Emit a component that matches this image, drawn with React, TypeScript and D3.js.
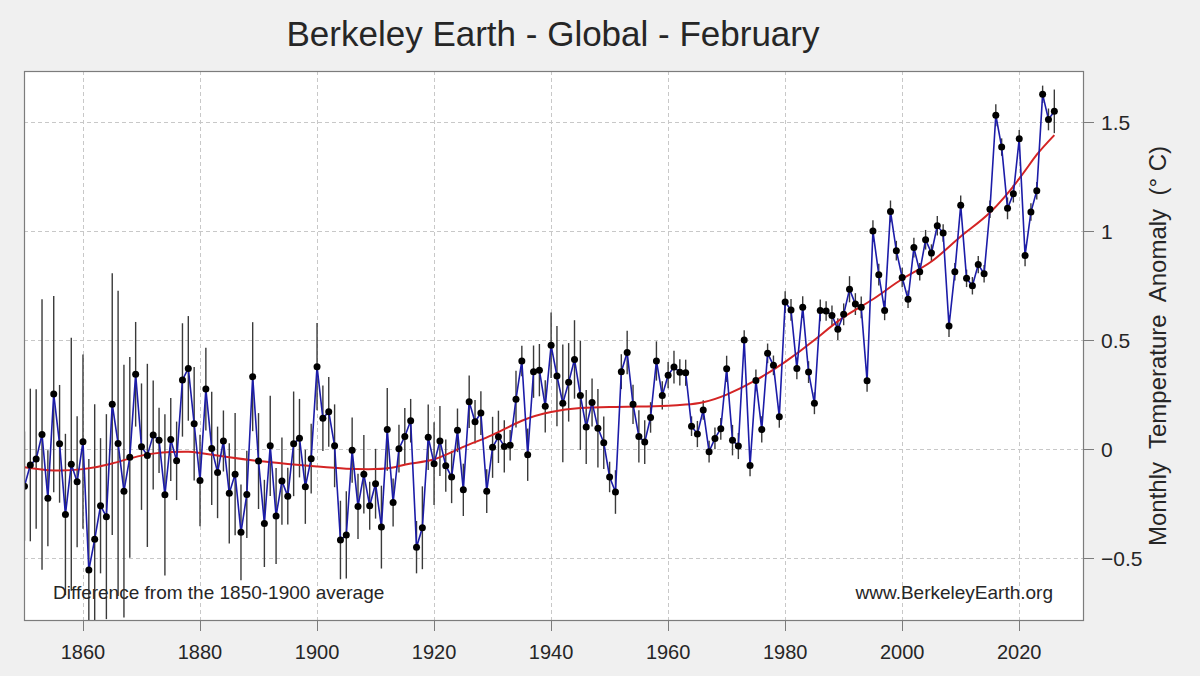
import React, { useEffect, useRef } from "react";
import * as d3 from "d3";

// February global anomaly, 1850..2026
const startYear = 1850;
const anomaly = [
  -0.17, -0.073, -0.046, 0.067, -0.226, 0.252, 0.024, -0.3, -0.07, -0.15,
  0.034, -0.555, -0.414, -0.26, -0.31, 0.206, 0.026, -0.193, -0.038, 0.343,
  0.011, -0.029, 0.064, 0.04, -0.21, 0.044, -0.054, 0.317, 0.37, 0.116,
  -0.144, 0.275, 0.003, -0.107, 0.037, -0.203, -0.115, -0.382, -0.208, 0.332,
  -0.055, -0.341, 0.015, -0.307, -0.147, -0.216, 0.024, 0.05, -0.173, -0.044,
  0.378, 0.141, 0.171, 0.015, -0.417, -0.394, -0.005, -0.263, -0.116, -0.26,
  -0.159, -0.358, 0.09, -0.245, 0.002, 0.058, 0.13, -0.45, -0.361, 0.054,
  -0.067, 0.037, -0.076, -0.128, 0.086, -0.187, 0.217, 0.125, 0.165, -0.193,
  0.008, 0.056, 0.012, 0.017, 0.229, 0.404, -0.026, 0.355, 0.362, 0.196,
  0.476, 0.335, 0.21, 0.306, 0.411, 0.246, 0.101, 0.214, 0.096, 0.029,
  -0.128, -0.197, 0.355, 0.443, 0.205, 0.058, 0.032, 0.145, 0.404, 0.246,
  0.339, 0.376, 0.352, 0.35, 0.105, 0.069, 0.179, -0.012, 0.049, 0.093,
  0.368, 0.041, 0.014, 0.5, -0.075, 0.315, 0.09, 0.439, 0.384, 0.148,
  0.674, 0.638, 0.37, 0.651, 0.353, 0.21, 0.636, 0.633, 0.613, 0.55,
  0.618, 0.733, 0.665, 0.65, 0.313, 1.0, 0.8, 0.636, 1.09, 0.91,
  0.787, 0.687, 0.924, 0.813, 0.96, 0.899, 1.024, 0.991, 0.564, 0.813,
  1.118, 0.783, 0.749, 0.846, 0.804, 1.1, 1.531, 1.385, 1.104, 1.171,
  1.423, 0.888, 1.087, 1.185, 1.627, 1.512, 1.549,
];

// half-width of the uncertainty bars, same years
const uncertainty = [
  0.25, 0.35, 0.32, 0.62, 0.22, 0.45, 0.27, 0.37, 0.58, 0.3,
  0.4, 0.51, 0.62, 0.31, 0.47, 0.6, 0.7, 0.58, 0.46, 0.24,
  0.29, 0.42, 0.25, 0.15, 0.37, 0.19, 0.18, 0.26, 0.24, 0.26,
  0.21, 0.19, 0.26, 0.21, 0.14, 0.23, 0.28, 0.22, 0.2, 0.25,
  0.22, 0.2, 0.23, 0.22, 0.2, 0.13, 0.24, 0.18, 0.17, 0.16,
  0.2, 0.15, 0.16, 0.19, 0.18, 0.2, 0.15, 0.15, 0.18, 0.11,
  0.16, 0.19, 0.19, 0.11, 0.11, 0.13, 0.1, 0.12, 0.19, 0.15,
  0.19, 0.16, 0.12, 0.12, 0.1, 0.12, 0.12, 0.1, 0.1, 0.1,
  0.14, 0.12, 0.12, 0.07, 0.13, 0.07, 0.12, 0.12, 0.12, 0.12,
  0.15, 0.23, 0.27, 0.18, 0.18, 0.25, 0.17, 0.11, 0.18, 0.12,
  0.07, 0.1, 0.08, 0.1, 0.09, 0.12, 0.1, 0.07, 0.09, 0.065,
  0.06, 0.075, 0.06, 0.06, 0.045, 0.06, 0.045, 0.05, 0.05, 0.05,
  0.06, 0.07, 0.06, 0.045, 0.05, 0.05, 0.06, 0.045, 0.045, 0.05,
  0.05, 0.05, 0.05, 0.05, 0.05, 0.05, 0.05, 0.045, 0.045, 0.05,
  0.05, 0.06, 0.05, 0.05, 0.05, 0.05, 0.05, 0.045, 0.05, 0.045,
  0.045, 0.04, 0.045, 0.04, 0.045, 0.04, 0.045, 0.04, 0.05, 0.04,
  0.045, 0.04, 0.04, 0.04, 0.04, 0.04, 0.05, 0.04, 0.05, 0.04,
  0.04, 0.05, 0.04, 0.04, 0.04, 0.05, 0.1,
];

// red smoothed trend
const smoothYears = [
  1850, 1855, 1860, 1865, 1870, 1875, 1878, 1880, 1885, 1890, 1895, 1900,
  1905, 1910, 1913, 1916, 1920, 1925, 1930, 1935, 1940, 1945, 1950, 1955,
  1960, 1963, 1966, 1970, 1975, 1980, 1985, 1990, 1995, 2000, 2005, 2010, 2015,
  2020, 2023, 2026,
];
const smoothValues = [
  -0.083, -0.098, -0.092, -0.066, -0.03, -0.014, -0.012, -0.018, -0.038, -0.055, -0.068, -0.08,
  -0.09, -0.092, -0.085, -0.066, -0.047, 0.01, 0.065, 0.13, 0.17, 0.188, 0.193, 0.195,
  0.199, 0.204, 0.215, 0.25, 0.316, 0.4, 0.5, 0.605, 0.687, 0.78, 0.86, 0.975, 1.085,
  1.24, 1.35, 1.44,
];

const xTicks = [1860, 1880, 1900, 1920, 1940, 1960, 1980, 2000, 2020];
const yTicks = [-0.5, 0, 0.5, 1, 1.5];

const title = "Berkeley Earth - Global - February";
const yLabel = "Monthly  Temperature  Anomaly  (° C)";
const noteLeft = "Difference from the 1850-1900 average";
const noteRight = "www.BerkeleyEarth.org";

const W = 1200;
const H = 676;

const App = () => {
  const ref = useRef(null);

  useEffect(() => {
    const plot = { left: 24, right: 1083, top: 71, bottom: 620 };
    const font = "'Liberation Sans', Arial, Helvetica, sans-serif";

    const svg = d3.select(ref.current).attr("width", W).attr("height", H);
    svg.selectAll("*").remove();

    svg.append("rect").attr("width", W).attr("height", H).attr("fill", "#f0f0f0");

    const x = d3.scaleLinear().domain([1849.92, 2030.9]).range([plot.left, plot.right]);
    const y = d3.scaleLinear().domain([-0.784, 1.734]).range([plot.bottom, plot.top]);

    const data = anomaly.map((v, i) => ({ year: startYear + i, v, u: uncertainty[i] }));
    const smooth = smoothYears.map((yr, i) => ({ year: yr, v: smoothValues[i] }));

    svg.append("defs").append("clipPath").attr("id", "plotclip")
      .append("rect")
      .attr("x", plot.left).attr("y", plot.top)
      .attr("width", plot.right - plot.left).attr("height", plot.bottom - plot.top);

    svg.append("rect")
      .attr("x", plot.left).attr("y", plot.top)
      .attr("width", plot.right - plot.left).attr("height", plot.bottom - plot.top)
      .attr("fill", "#ffffff");

    // grid
    const grid = svg.append("g").attr("stroke", "#c8c8c8").attr("stroke-dasharray", "4,3").attr("stroke-width", 1);
    xTicks.forEach(t => {
      grid.append("line").attr("x1", Math.round(x(t)) + 0.5).attr("x2", Math.round(x(t)) + 0.5)
        .attr("y1", plot.top).attr("y2", plot.bottom);
    });
    yTicks.forEach(t => {
      grid.append("line").attr("y1", Math.round(y(t)) + 0.5).attr("y2", Math.round(y(t)) + 0.5)
        .attr("x1", plot.left).attr("x2", plot.right);
    });

    const g = svg.append("g").attr("clip-path", "url(#plotclip)");

    // error bars
    g.selectAll(".err").data(data).enter().append("line")
      .attr("x1", d => x(d.year)).attr("x2", d => x(d.year))
      .attr("y1", d => y(d.v - d.u)).attr("y2", d => y(d.v + d.u))
      .attr("stroke", "#3a3a3a").attr("stroke-width", 1.4);

    // smoothed trend
    g.append("path").datum(smooth)
      .attr("d", d3.line().x(d => x(d.year)).y(d => y(d.v)).curve(d3.curveNatural))
      .attr("fill", "none").attr("stroke", "#d42424").attr("stroke-width", 2);

    // yearly line
    g.append("path").datum(data)
      .attr("d", d3.line().x(d => x(d.year)).y(d => y(d.v)))
      .attr("fill", "none").attr("stroke", "#1c1ca8").attr("stroke-width", 1.6);

    g.selectAll(".dot").data(data).enter().append("circle")
      .attr("cx", d => x(d.year)).attr("cy", d => y(d.v)).attr("r", 3.5)
      .attr("fill", "#000");

    // frame
    svg.append("rect")
      .attr("x", plot.left + 0.5).attr("y", plot.top + 0.5)
      .attr("width", plot.right - plot.left).attr("height", plot.bottom - plot.top)
      .attr("fill", "none").attr("stroke", "#7c7c7c").attr("stroke-width", 1.2);

    // x axis
    const xa = svg.append("g").style("font-family", font);
    xTicks.forEach(t => {
      xa.append("line").attr("x1", Math.round(x(t)) + 0.5).attr("x2", Math.round(x(t)) + 0.5)
        .attr("y1", plot.bottom).attr("y2", plot.bottom + 11).attr("stroke", "#7c7c7c");
      xa.append("text").attr("x", x(t)).attr("y", 659).attr("text-anchor", "middle")
        .style("font-size", "20px").style("fill", "#262626").text(t);
    });

    // y axis (right side)
    const ya = svg.append("g").style("font-family", font);
    yTicks.forEach(t => {
      ya.append("line").attr("x1", plot.right).attr("x2", plot.right + 11)
        .attr("y1", Math.round(y(t)) + 0.5).attr("y2", Math.round(y(t)) + 0.5).attr("stroke", "#7c7c7c");
      ya.append("text").attr("x", plot.right + 18).attr("y", y(t)).attr("dy", "0.36em")
        .style("font-size", "21px").style("fill", "#262626").text(d3.format("~g")(t));
    });

    svg.append("text")
      .attr("transform", `translate(1166, 346) rotate(-90)`)
      .attr("text-anchor", "middle")
      .style("white-space", "pre")
      .style("font-family", font).style("font-size", "24px").style("fill", "#262626")
      .text(yLabel);

    svg.append("text").attr("x", 553).attr("y", 46).attr("text-anchor", "middle")
      .style("font-family", font).style("font-size", "35px").style("fill", "#262626")
      .text(title);

    svg.append("text").attr("x", 53).attr("y", 599)
      .style("font-family", font).style("font-size", "19px").style("fill", "#262626")
      .text(noteLeft);
    svg.append("text").attr("x", 1053).attr("y", 599).attr("text-anchor", "end")
      .style("font-family", font).style("font-size", "19px").style("fill", "#262626")
      .text(noteRight);
  }, []);

  return (
    <div style={{ position: "absolute", left: 0, top: 0, width: W, height: H }}>
      <svg ref={ref} style={{ display: "block" }}></svg>
    </div>
  );
};

export default App;
